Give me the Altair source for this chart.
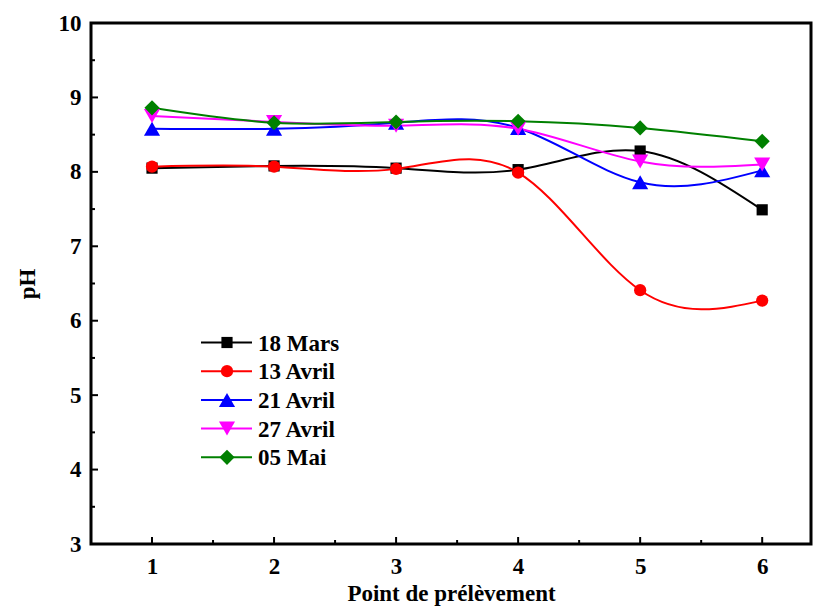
import altair as alt
import pandas as pd

# Sampling points along the x axis
points = [1, 2, 3, 4, 5, 6]

# pH measured at each sampling point, one list per campaign
series_names = ["18 Mars", "13 Avril", "21 Avril", "27 Avril", "05 Mai"]
ph_18_mars = [8.05, 8.08, 8.05, 8.03, 8.28, 7.49]
ph_13_avril = [8.07, 8.07, 8.04, 7.99, 6.41, 6.27]
ph_21_avril = [8.58, 8.58, 8.66, 8.59, 7.86, 8.02]
ph_27_avril = [8.75, 8.67, 8.62, 8.58, 8.14, 8.10]
ph_05_mai = [8.86, 8.66, 8.67, 8.68, 8.59, 8.41]

series_colors = ["#000000", "#FF0000", "#0000FF", "#FF00FF", "#008000"]
series_shapes = ["square", "circle", "triangle-up", "triangle-down", "diamond"]
series_sizes = [125, 150, 260, 260, 230]

x_major = [1, 2, 3, 4, 5, 6]
x_minor = [1.5, 2.5, 3.5, 4.5, 5.5]
y_major = [3, 4, 5, 6, 7, 8, 9, 10]
y_minor = [3.5, 4.5, 5.5, 6.5, 7.5, 8.5, 9.5]

W, H = 720, 521
FONT = "Liberation Serif"
FS = 23

rows = []
for name, vals in zip(series_names,
                      [ph_18_mars, ph_13_avril, ph_21_avril, ph_27_avril, ph_05_mai]):
    for p, v in zip(points, vals):
        rows.append({"point": p, "ph": v, "series": name})
df = pd.DataFrame(rows)

x_scale = alt.Scale(domain=[0.5, 6.4], nice=False, zero=False)
y_scale = alt.Scale(domain=[3, 10], nice=False, zero=False)
color_enc = alt.Color("series:N", sort=series_names,
                      scale=alt.Scale(domain=series_names, range=series_colors),
                      legend=None)
shape_enc = alt.Shape("series:N", sort=series_names,
                      scale=alt.Scale(domain=series_names, range=series_shapes),
                      legend=None)
size_enc = alt.Size("series:N", sort=series_names,
                    scale=alt.Scale(type="ordinal", domain=series_names,
                                    range=series_sizes),
                    legend=None)

base = alt.Chart(df)

x_enc = alt.X("point:Q", scale=x_scale,
              axis=alt.Axis(values=x_major, title="Point de prélèvement",
                            labelPadding=11, titlePadding=4, format="d"))
y_enc = alt.Y("ph:Q", scale=y_scale,
              axis=alt.Axis(values=y_major, title="pH", labelPadding=10,
                            titlePadding=19, format="d"))

lines = base.mark_line(interpolate="natural", strokeWidth=2).encode(
    x=x_enc, y=y_enc, color=color_enc, detail="series:N", order=alt.Order("point:Q")
)
markers = base.mark_point(filled=True, opacity=1).encode(
    x="point:Q", y="ph:Q", color=color_enc, shape=shape_enc, size=size_enc
)

# Inward tick marks on the bottom and left edges
xt_major = alt.Chart(pd.DataFrame({"t": x_major})).mark_rule(
    color="black", strokeWidth=2
).encode(x=alt.X("t:Q", scale=x_scale), y=alt.value(H), y2=alt.value(H - 7))
xt_minor = alt.Chart(pd.DataFrame({"t": x_minor})).mark_rule(
    color="black", strokeWidth=2
).encode(x=alt.X("t:Q", scale=x_scale), y=alt.value(H), y2=alt.value(H - 4))
yt_major = alt.Chart(pd.DataFrame({"t": y_major})).mark_rule(
    color="black", strokeWidth=2
).encode(y=alt.Y("t:Q", scale=y_scale), x=alt.value(0), x2=alt.value(7))
yt_minor = alt.Chart(pd.DataFrame({"t": y_minor})).mark_rule(
    color="black", strokeWidth=2
).encode(y=alt.Y("t:Q", scale=y_scale), x=alt.value(0), x2=alt.value(4))

plot = alt.layer(lines, markers, xt_major, xt_minor, yt_major, yt_minor)

# Legend block: line sample + marker + label, one row per series
row_gap = 28.7
first_row = 319.5
leg_df = pd.DataFrame({"series": series_names, "rank": list(range(len(series_names)))})
leg_y = alt.Y("rank:Q", axis=None,
              scale=alt.Scale(domain=[-first_row / row_gap, (H - first_row) / row_gap],
                              reverse=True, nice=False, zero=False))
leg_base = alt.Chart(leg_df)
leg_line = leg_base.mark_rule(strokeWidth=2).encode(
    x=alt.value(110), x2=alt.value(161), y=leg_y, color=color_enc
)
leg_mark = leg_base.mark_point(filled=True, opacity=1).encode(
    x=alt.value(136), y=leg_y, color=color_enc, shape=shape_enc, size=size_enc
)
leg_text = leg_base.mark_text(
    align="left", baseline="middle", font=FONT, fontSize=FS, fontWeight="bold",
    color="black", dy=1
).encode(x=alt.value(167), y=leg_y, text="series:N")
legend_block = alt.layer(leg_line, leg_mark, leg_text)

chart = alt.layer(plot, legend_block).resolve_scale(y="independent").properties(
    width=W, height=H,
    autosize=alt.AutoSizeParams(type="none"),
    padding={"left": 91, "top": 23, "right": 2, "bottom": 62},
).configure_view(
    stroke="black", strokeWidth=3
).configure_axis(
    labelFont=FONT, labelFontSize=FS, labelFontWeight="bold", labelColor="black",
    titleFont=FONT, titleFontSize=FS, titleFontWeight="bold", titleColor="black",
    ticks=False, domain=False, grid=False
)

chart.save("out.html", embed_options={"renderer": "svg", "actions": False})
